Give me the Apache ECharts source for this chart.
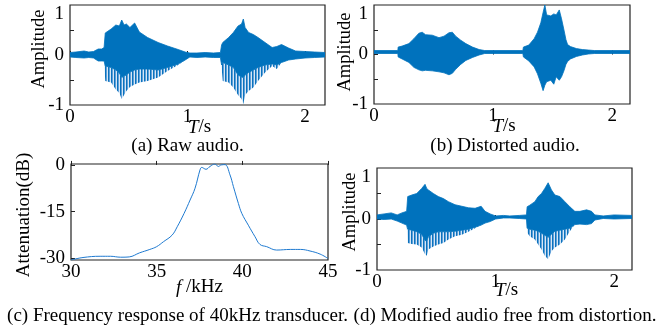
<!DOCTYPE html>
<html>
<head>
<meta charset="utf-8">
<script src="https://cdn.jsdelivr.net/npm/echarts@6/dist/echarts.min.js"></script>
<style>
  html, body { margin: 0; padding: 0; background: #fff; }
  #chart { width: 667px; height: 333px; }
</style>
</head>
<body>
<div id="chart"></div>
<script>
// tick labels
const ampLabels = [-1, 0, 1];
const ampTicks = [-0.5, 0, 0.5];
const timeLabels = [0, 1, 2];
const freqLabels = [30, 35, 40, 45];
const dbLabels = [-30, -15, 0];

// (a) raw audio: envelope
const tA    = [0, 0.05, 0.12, 0.16, 0.2, 0.24, 0.27, 0.29, 0.30, 0.35, 0.39, 0.42, 0.44, 0.46, 0.48, 0.51, 0.55, 0.59, 0.66, 0.75, 0.83, 0.92, 0.98, 1.02, 1.08, 1.15, 1.22, 1.28, 1.29, 1.30, 1.35, 1.39, 1.43, 1.46, 1.475, 1.49, 1.52, 1.56, 1.60, 1.66, 1.72, 1.76, 1.80, 1.86, 1.92, 2.0, 2.08, 2.17];
const upA   = [0.05, 0.06, 0.08, 0.06, 0.07, 0.12, 0.12, 0.15, 0.44, 0.52, 0.60, 0.58, 0.70, 0.60, 0.62, 0.55, 0.64, 0.46, 0.35, 0.25, 0.18, 0.11, 0.06, 0.04, 0.04, 0.05, 0.04, 0.05, 0.20, 0.25, 0.35, 0.45, 0.58, 0.62, 0.72, 0.55, 0.45, 0.41, 0.35, 0.25, 0.15, 0.17, 0.21, 0.14, 0.08, 0.07, 0.06, 0.05];
const coreA = [-0.04, -0.05, -0.06, -0.05, -0.06, -0.12, -0.12, -0.12, -0.22, -0.25, -0.30, -0.36, -0.45, -0.42, -0.40, -0.34, -0.30, -0.28, -0.28, -0.30, -0.25, -0.18, -0.10, -0.04, -0.05, -0.04, -0.05, -0.05, -0.20, -0.15, -0.20, -0.25, -0.40, -0.44, -0.45, -0.40, -0.35, -0.30, -0.25, -0.20, -0.18, -0.20, -0.15, -0.10, -0.08, -0.06, -0.05, -0.04];
const loA   = [-0.04, -0.05, -0.06, -0.05, -0.06, -0.12, -0.12, -0.12, -0.52, -0.55, -0.69, -0.76, -0.88, -0.80, -0.72, -0.64, -0.59, -0.55, -0.52, -0.45, -0.32, -0.20, -0.10, -0.04, -0.05, -0.04, -0.05, -0.05, -0.25, -0.52, -0.55, -0.65, -0.80, -0.88, -0.98, -0.80, -0.72, -0.65, -0.52, -0.35, -0.22, -0.28, -0.15, -0.10, -0.08, -0.06, -0.05, -0.04];

// (b) distorted audio
const tB  = [0, 0.2, 0.203, 0.236, 0.293, 0.335, 0.377, 0.405, 0.433, 0.489, 0.546, 0.588, 0.63, 0.658, 0.686, 0.728, 0.771, 0.827, 0.883, 0.93, 1.25, 1.255, 1.30, 1.345, 1.373, 1.401, 1.42, 1.435, 1.45, 1.485, 1.51, 1.53, 1.556, 1.575, 1.595, 1.612, 1.626, 1.65, 1.70, 1.75, 1.80, 1.85, 2.15];
const upB = [0.08, 0.08, 0.15, 0.17, 0.22, 0.32, 0.43, 0.45, 0.40, 0.39, 0.34, 0.37, 0.44, 0.45, 0.37, 0.29, 0.22, 0.15, 0.10, 0.08, 0.08, 0.15, 0.19, 0.32, 0.45, 0.64, 0.85, 1.0, 0.80, 0.78, 0.82, 0.80, 0.90, 0.72, 0.50, 0.30, 0.20, 0.16, 0.12, 0.10, 0.09, 0.08, 0.08];
const loB = [0.02, 0.02, -0.05, -0.09, -0.16, -0.26, -0.31, -0.33, -0.32, -0.33, -0.35, -0.37, -0.41, -0.38, -0.30, -0.20, -0.12, -0.06, -0.01, 0.02, 0.02, -0.05, -0.13, -0.25, -0.39, -0.58, -0.73, -0.62, -0.55, -0.52, -0.60, -0.45, -0.52, -0.45, -0.33, -0.20, -0.14, -0.09, -0.04, -0.01, 0.01, 0.02, 0.02];

// (c) frequency response of the transducer
const freq = [30, 30.7, 31.7, 32.3, 32.9, 33.4, 34.0, 34.6, 35.0, 35.4, 35.9, 36.2, 36.6, 36.95, 37.24, 37.53, 37.63, 37.88, 38.11, 38.4, 38.6, 38.76, 38.99, 39.28, 39.48, 39.77, 39.97, 40.35, 40.74, 41.03, 41.42, 42.0, 42.8, 43.4, 43.95, 44.54, 45];
const atten = [-30.6, -29.8, -29.4, -29.4, -29.7, -29.6, -28.3, -27.2, -26.3, -24.7, -22.6, -19.9, -15.6, -11.3, -7.5, -1.6, -0.8, -1.4, -0.5, 0.3, -0.5, 0.0, 0.1, -3.2, -7.0, -12.4, -15.6, -19.4, -23.1, -25.6, -26.3, -27.4, -27.2, -27.2, -27.7, -28.7, -30.1];

// (d) modified audio
const tD    = [0, 0.06, 0.12, 0.17, 0.21, 0.25, 0.259, 0.293, 0.335, 0.377, 0.405, 0.419, 0.433, 0.475, 0.517, 0.56, 0.602, 0.658, 0.715, 0.771, 0.827, 0.878, 0.911, 0.954, 1.0, 1.066, 1.12, 1.2, 1.26, 1.266, 1.288, 1.331, 1.359, 1.387, 1.415, 1.443, 1.471, 1.50, 1.542, 1.584, 1.626, 1.668, 1.711, 1.767, 1.809, 1.837, 1.907, 2.0, 2.15];
const upD   = [0.08, 0.10, 0.12, 0.08, 0.12, 0.15, 0.44, 0.47, 0.50, 0.60, 0.68, 0.60, 0.57, 0.50, 0.44, 0.40, 0.34, 0.28, 0.25, 0.22, 0.21, 0.25, 0.15, 0.10, 0.06, 0.07, 0.06, 0.07, 0.08, 0.24, 0.27, 0.34, 0.44, 0.50, 0.60, 0.71, 0.57, 0.47, 0.44, 0.34, 0.24, 0.15, 0.15, 0.18, 0.15, 0.08, 0.06, 0.08, 0.07];
const coreD = [0.0, -0.01, 0.0, -0.04, -0.08, -0.12, -0.20, -0.22, -0.25, -0.30, -0.42, -0.43, -0.35, -0.28, -0.25, -0.25, -0.25, -0.24, -0.22, -0.20, -0.16, -0.12, -0.08, -0.05, 0.0, 0.02, 0.02, 0.01, 0.0, -0.18, -0.20, -0.22, -0.24, -0.28, -0.32, -0.36, -0.30, -0.24, -0.22, -0.20, -0.18, -0.11, -0.10, -0.11, -0.09, -0.02, 0.01, 0.0, 0.01];
const loD   = [0.0, -0.01, 0.0, -0.04, -0.08, -0.12, -0.47, -0.49, -0.50, -0.56, -0.69, -0.72, -0.60, -0.54, -0.50, -0.47, -0.40, -0.34, -0.31, -0.25, -0.18, -0.12, -0.08, -0.05, 0.0, 0.02, 0.02, 0.01, 0.0, -0.27, -0.34, -0.40, -0.50, -0.60, -0.72, -0.79, -0.63, -0.56, -0.50, -0.40, -0.24, -0.11, -0.10, -0.11, -0.09, -0.02, 0.01, 0.0, 0.01];

const FONT = '"Liberation Serif", "Times New Roman", serif';
const BLUE = '#0072bd';

// striped fill for the spiky part of the waveform (thin lines with gaps)
const stripe = document.createElement('canvas');
stripe.width = 3; stripe.height = 1;
(function () {
  const g = stripe.getContext('2d');
  g.fillStyle = '#0a72bd'; g.fillRect(0, 0, 1, 1);
  g.fillStyle = '#5f9fd8'; g.fillRect(1, 0, 1, 1);
  g.fillStyle = '#d6e6f5'; g.fillRect(2, 0, 1, 1);
})();
const STRIPES = { image: stripe, repeat: 'repeat' };

const chart = echarts.init(document.getElementById('chart'), null, { renderer: 'canvas' });

// filled band between two envelopes, drawn with the axis scales
function band(idx, t, hi, lo, fill, stroke) {
  return {
    type: 'custom',
    xAxisIndex: idx,
    yAxisIndex: idx,
    silent: true,
    clip: true,
    data: t.map((x, i) => [x, hi[i], lo[i]]),
    encode: { x: 0, y: [1, 2] },
    renderItem(params, api) {
      if (params.dataIndex !== 0) return null;
      const top = t.map((x, i) => api.coord([x, hi[i]]));
      const bot = t.map((x, i) => api.coord([x, lo[i]])).reverse();
      return {
        type: 'polygon',
        shape: { points: top.concat(bot) },
        style: { fill: fill, stroke: stroke || null, lineWidth: 0.8 }
      };
    }
  };
}

function timeAxis(idx, max, gap) {
  return {
    gridIndex: idx, type: 'value', min: 0, max: max,
    name: '{i|T}/s', nameLocation: 'middle', nameGap: gap, nameMoveOverlap: false,
    nameTextStyle: { fontFamily: FONT, fontSize: 19, color: '#000', padding: [0, 0, 0, 4], rich: { i: { fontFamily: FONT, fontSize: 19, fontStyle: 'italic', color: '#000' } } },
    axisLine: { show: false }, splitLine: { show: false },
    axisTick: { show: true, inside: true, length: 4, lineStyle: { color: '#222' }, customValues: timeLabels },
    axisLabel: { customValues: timeLabels, fontFamily: FONT, fontSize: 19, color: '#000', margin: 3 }
  };
}

function ampAxis(idx, gap, pad) {
  return {
    gridIndex: idx, type: 'value', min: -1, max: 1,
    name: 'Amplitude', nameLocation: 'middle', nameGap: gap, nameMoveOverlap: false,
    nameTextStyle: { fontFamily: FONT, fontSize: 18.5, color: '#000', padding: pad },
    axisLine: { show: false }, splitLine: { show: false },
    axisTick: { show: true, inside: true, length: 4, lineStyle: { color: '#222' }, customValues: ampTicks },
    axisLabel: { customValues: ampLabels, fontFamily: FONT, fontSize: 19, color: '#000', margin: 6, verticalAlignMaxLabel: 'top' }
  };
}

const gridBox = { show: true, borderColor: '#222', borderWidth: 1.2, backgroundColor: 'transparent', containLabel: false };

const caption = (text, x, y) => ({
  type: 'text', x: x, y: y,
  style: { text: text, font: '19px ' + FONT, fill: '#000', align: 'center', verticalAlign: 'middle' }
});

chart.setOption({
  animation: false,
  backgroundColor: '#fff',
  grid: [
    Object.assign({ left: 70, top: 5, width: 255, height: 100 }, gridBox),
    Object.assign({ left: 374, top: 5, width: 256, height: 99 }, gridBox),
    Object.assign({ left: 71, top: 164, width: 257, height: 96 }, gridBox),
    Object.assign({ left: 377, top: 168, width: 255, height: 102 }, gridBox)
  ],
  xAxis: [
    timeAxis(0, 2.17, 13),
    timeAxis(1, 2.15, 13),
    {
      gridIndex: 2, type: 'value', min: 30, max: 45,
      name: '{i|f} /kHz', nameLocation: 'middle', nameGap: 18, nameMoveOverlap: false,
      nameTextStyle: { fontFamily: FONT, fontSize: 19, color: '#000', rich: { i: { fontFamily: FONT, fontSize: 19, fontStyle: 'italic', color: '#000' } } },
      axisLine: { show: false }, splitLine: { show: false },
      axisTick: { show: true, inside: true, length: 4, lineStyle: { color: '#222' }, customValues: freqLabels },
      axisLabel: { customValues: freqLabels, fontFamily: FONT, fontSize: 19, color: '#000', margin: 3 }
    },
    timeAxis(3, 2.15, 11)
  ],
  yAxis: [
    ampAxis(0, 21, [0, 0, 0, 12]),
    ampAxis(1, 19, [0, 0, 0, 5]),
    {
      gridIndex: 2, type: 'value', min: -30.6, max: 0.3,
      name: 'Attenuation(dB)', nameLocation: 'middle', nameGap: 37, nameMoveOverlap: false,
      nameTextStyle: { fontFamily: FONT, fontSize: 19, color: '#000', padding: [0, 6, 0, 0] },
      axisLine: { show: false }, splitLine: { show: false },
      axisTick: { show: true, inside: true, length: 4, lineStyle: { color: '#222' }, customValues: dbLabels },
      axisLabel: { customValues: dbLabels, fontFamily: FONT, fontSize: 19, color: '#000', margin: 6 }
    },
    ampAxis(3, 17, [0, 0, 0, 14])
  ],
  series: [
    band(0, tA, coreA, loA, STRIPES, null),
    band(0, tA, upA, coreA, BLUE, BLUE),
    band(1, tB, upB, loB, BLUE, BLUE),
    {
      type: 'line', xAxisIndex: 2, yAxisIndex: 2, smooth: 0.4, showSymbol: false, silent: true,
      data: freq.map((f, i) => [f, atten[i]]),
      lineStyle: { color: '#1f7ad0', width: 1 }
    },
    band(3, tD, coreD, loD, STRIPES, null),
    band(3, tD, upD, coreD, BLUE, BLUE)
  ],
  graphic: [
    caption('(a) Raw audio.', 187.5, 146),
    caption('(b) Distorted audio.', 505, 146),
    caption('(c) Frequency response of 40kHz transducer.', 177.5, 316),
    caption('(d) Modified audio free from distortion.', 505, 316)
  ]
});
</script>
</body>
</html>
